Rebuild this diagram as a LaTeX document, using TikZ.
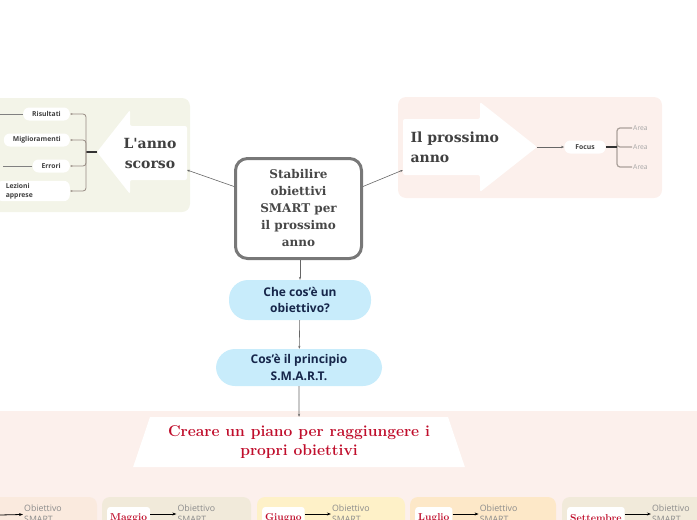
\documentclass[tikz,border=0pt]{standalone}
\usepackage{fontspec}
\setsansfont{Open Sans}
\newfontfamily\slabfont{DejaVu Serif}
\usetikzlibrary{arrows.meta, positioning, shapes.geometric}
\definecolor{panelgreen}{RGB}{243,244,232}
\definecolor{panelpink}{RGB}{252,240,236}
\definecolor{pillblue}{RGB}{200,236,251}
\definecolor{inknavy}{RGB}{22,38,74}
\definecolor{inkred}{RGB}{192,14,44}
\definecolor{boxpeach}{RGB}{250,234,222}
\definecolor{boxbeige}{RGB}{241,234,218}
\definecolor{boxyellow}{RGB}{254,241,200}
\definecolor{boxorange}{RGB}{253,232,200}
\definecolor{twiggray}{RGB}{150,138,130}
\definecolor{framegray}{RGB}{120,120,120}

\begin{document}
\begin{tikzpicture}[
    x=1pt, y=-1pt,
    panel/.style={rounded corners=8pt},
    blockarrow/.style={fill=white, rounded corners=2pt},
    arrowtext/.style={align=center, font=\slabfont\bfseries\fontsize{14}{20}\selectfont, text=black!75},
    central/.style={rectangle, rounded corners=12pt, draw=framegray, line width=3pt, fill=white,
                    minimum width=126pt, minimum height=100pt, align=center,
                    font=\slabfont\bfseries\fontsize{12}{17}\selectfont, text=black!72},
    question/.style={rectangle, rounded corners=19pt, fill=pillblue, align=center, text=inknavy,
                     font=\sffamily\bfseries\fontsize{12}{16.5}\selectfont},
    banner/.style={trapezium, trapezium stretches=true, trapezium left angle=69, trapezium right angle=69,
                   fill=white, minimum width=332pt, minimum height=50pt, align=center, text=inkred,
                   font=\bfseries\fontsize{15.6}{19}\selectfont},
    leaf/.style={rectangle, rounded corners=6pt, fill=white, inner xsep=9pt, inner ysep=2pt,
                 minimum height=13pt, text=black!75, font=\sffamily\bfseries\fontsize{6.8}{9.5}\selectfont},
    area/.style={inner sep=1pt, text=black!35, font=\sffamily\fontsize{6.8}{8}\selectfont},
    month/.style={rectangle, rounded corners=3pt, fill=white, inner xsep=3pt, minimum height=22pt,
                  text=inkred, font=\bfseries\fontsize{10}{12}\selectfont},
    goalnote/.style={inner sep=1pt, align=left, text=black!45, font=\sffamily\fontsize{8.8}{11}\selectfont},
    link/.style={draw=black!60, line width=0.6pt, -{Stealth[length=3pt]}},
    stem/.style={draw=black!80, line width=1.2pt},
    twig/.style={draw=twiggray, line width=0.8pt, rounded corners=3pt, -{Stealth[length=2.5pt]}},
    bracket/.style={draw=twiggray!80, line width=1.2pt, rounded corners=3pt},
    offlink/.style={draw=black!50, line width=0.6pt},
    steparrow/.style={draw=black, line width=0.8pt, -{Stealth[length=4pt]}}
]
    \useasboundingbox (0,0) rectangle (697,520);
    \clip (0,0) rectangle (697,520);

    % background panels
    \fill[panelgreen, panel] (-10,98) rectangle (190,212);
    \fill[panelpink, panel] (398,97) rectangle (662,198);
    \fill[panelpink] (-10,411) rectangle (707,530);

    % last year
    \fill[blockarrow] (97,152) -- (130,110) -- (130,126) -- (187,126) -- (187,180)
        -- (130,180) -- (130,194) -- cycle;
    \coordinate (pasttip) at (97,152);
    \coordinate (pasttail) at (187,170);
    \node[arrowtext] (past) at (150,153) {L'anno\\scorso};

    % next year
    \fill[blockarrow] (403,119) -- (480,119) -- (480,102) -- (537,147) -- (480,192)
        -- (480,175) -- (403,175) -- cycle;
    \coordinate (nexttip) at (537,147);
    \coordinate (nexttail) at (403,170);
    \node[arrowtext, align=left, anchor=west] (next) at (407,147) {Il prossimo\\anno};

    % central topic
    \node[central] (goal) at (298.5,208.5) {Stabilire\\obiettivi\\SMART per\\il prossimo\\anno};
    \draw[link] ([yshift=22pt]goal.west) -- (pasttail);
    \draw[link] ([yshift=22pt]goal.east) -- (nexttail);

    % questions
    \node[question, minimum width=142pt, minimum height=40pt] (what) at (300,300) {Che cos'è un\\obiettivo?};
    \node[question, minimum width=166pt, minimum height=37pt] (smart) at (299,367.5) {Cos'è il principio\\S.M.A.R.T.};
    \node[banner] (plan) at (299,442) {Creare un piano per raggiungere i\\propri obiettivi};
    \draw[link] (what.north |- goal.south) -- (what.north);
    \draw[link] (what) -- (smart);
    \draw[link] (smart) -- (plan);

    % branches of last year
    \coordinate (pastfork) at (86,152);
    \draw[stem] (pasttip) -- (pastfork);
    \node[leaf, anchor=east] (results) at (70,114) {Risultati};
    \node[leaf, anchor=east] (improve) at (70,140) {Miglioramenti};
    \node[leaf, anchor=east] (errors) at (70,166) {Errori};
    \node[leaf, anchor=east, align=left, text width=55pt] (lessons) at (70,191) {Lezioni\\apprese};
    \foreach \n in {results, improve, errors, lessons}
        \draw[twig] (pastfork) |- (\n.east);
    \coordinate (resultsout) at (-5,114);
    \coordinate (errorsout) at (3,166);
    \draw[offlink] (results.west) -- (resultsout);
    \draw[offlink] (errors.west) -- (errorsout);

    % branches of next year
    \node[leaf, inner xsep=11pt] (focus) at (585,147) {Focus};
    \draw[link] (nexttip) -- (focus);
    \coordinate (nextfork) at (617,147);
    \foreach \y [count=\i] in {128,147,167}
        \node[area, anchor=west] (area\i) at (632,\y) {Area};
    \foreach \i in {1,2,3}
        \draw[bracket] (nextfork) |- (area\i.west);
    \draw[stem] (focus) -- (nextfork);

    % months
    \fill[boxpeach, panel] (-10,497) rectangle (97,540);
    \coordinate (aprilin) at (0,515);
    \node[goalnote, anchor=west] (note0) at (23,514) {Obiettivo\\SMART};
    \draw[steparrow] (aprilin) -- (note0);
    \foreach \bx/\bw/\bcol/\mon [count=\i] in {102/149/boxbeige/Maggio, 257/148/boxyellow/Giugno,
                                              410/146/boxorange/Luglio, 562/150/boxbeige/Settembre}{
        \fill[\bcol, panel] (\bx,497) rectangle ++(\bw,50);
        \node[month, anchor=west] (mon\i) at (\bx+5,518) {\mon};
        \node[goalnote, anchor=west] (note\i) at ([xshift=26pt]mon\i.east |- 0,514) {Obiettivo\\SMART};
        \draw[steparrow] (mon\i.east |- note\i.west) -- (note\i.west);
    }
\end{tikzpicture}
\end{document}
